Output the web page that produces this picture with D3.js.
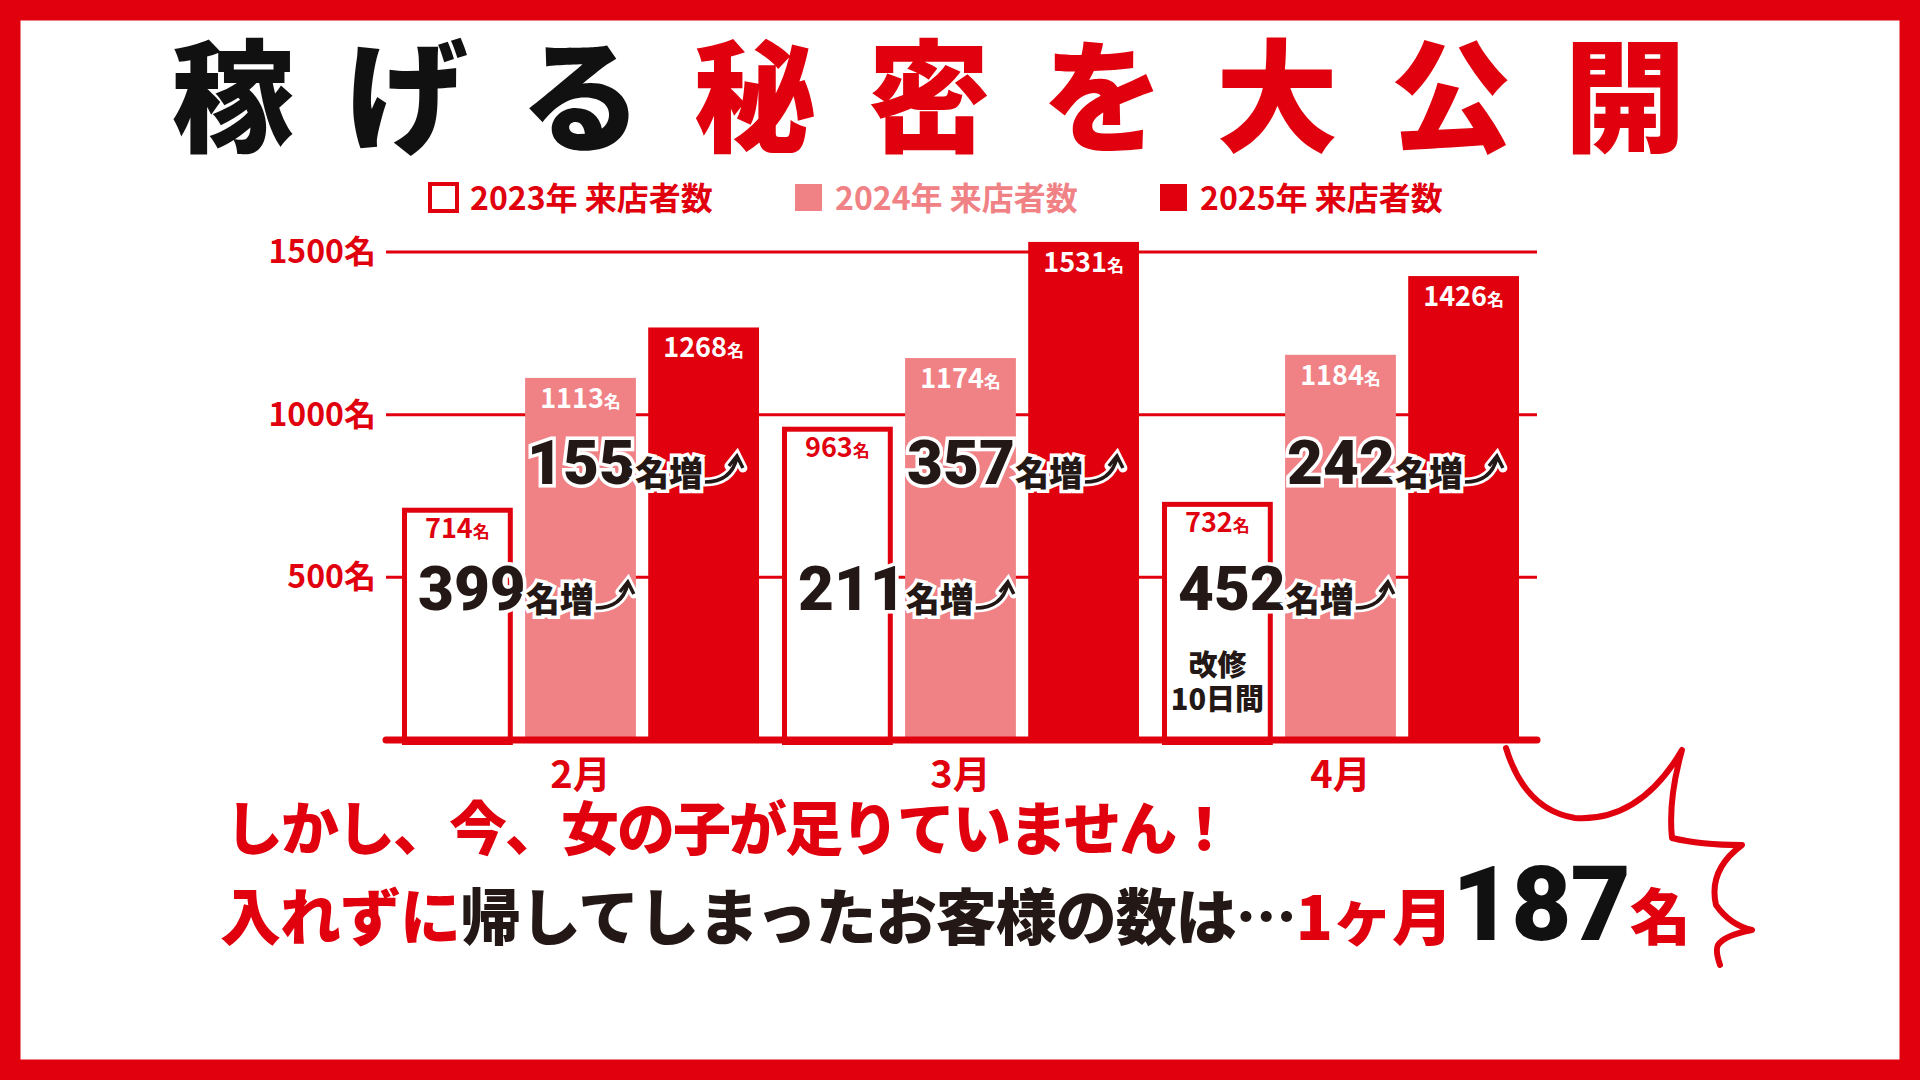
<!DOCTYPE html>
<html><head><meta charset="utf-8">
<script src="https://cdn.jsdelivr.net/npm/d3@7"></script>
<style>body{margin:0;background:#fff}text{font-family:"Noto Sans CJK JP",sans-serif}</style>
</head><body><svg width="1920" height="1080"></svg>
<script>
const months = ['2月', '3月', '4月'];
const series = ['2023年 来店者数', '2024年 来店者数', '2025年 来店者数'];
const v2023 = [714, 963, 732];
const v2024 = [1113, 1174, 1184];
const v2025 = [1268, 1531, 1426];
const ticks = [500, 1000, 1500];
const RED = '#e0000e', PINK = '#f08286';
const fills = ['#fff', PINK, RED];

const svg = d3.select('svg');
// frame
svg.append('rect').attr('x', 10).attr('y', 10).attr('width', 1900).attr('height', 1060)
  .attr('fill', 'none').attr('stroke', RED).attr('stroke-width', 21);

// title
const title = svg.append('text').attr('x', 955).attr('y', 142).attr('text-anchor', 'middle')
  .attr('font-size', 122).attr('font-weight', 900).attr('letter-spacing', 52);
title.append('tspan').attr('fill', '#111').text('稼げる');
title.append('tspan').attr('fill', RED).text('秘密を大公開');

// legend
const lg = svg.append('g');
const legX = [430, 795, 1160];
series.forEach((s, i) => {
  const g = lg.append('g').attr('transform', `translate(${legX[i]},198)`);
  g.append('rect').attr('x', 0).attr('y', -14).attr('width', 27).attr('height', 27)
    .attr('fill', fills[i]).attr('stroke', i === 0 ? RED : fills[i]).attr('stroke-width', i === 0 ? 4 : 0);
  g.append('text').attr('x', 40).attr('y', 12).attr('font-size', 32).attr('font-weight', 700)
    .attr('fill', i === 1 ? PINK : RED).text(s);
});

const y = d3.scaleLinear().domain([0, 1500]).range([740, 252]);
const x = d3.scaleBand().domain(months).range([402, 1519]).paddingInner(0.0605);
const xs = d3.scaleBand().domain(d3.range(3)).range([0, x.bandwidth()]).paddingInner(0.1);

// gridlines
svg.append('g').selectAll('line').data(ticks).join('line')
  .attr('x1', 386).attr('x2', 1537).attr('y1', d => y(d)).attr('y2', d => y(d))
  .attr('stroke', RED).attr('stroke-width', 3);
svg.append('g').selectAll('text').data(ticks).join('text')
  .attr('x', 376).attr('y', d => y(d) + 11).attr('text-anchor', 'end')
  .attr('font-size', 32).attr('font-weight', 700).attr('fill', RED).text(d => d + '名');

const rows = months.map((m, i) => [v2023[i], v2024[i], v2025[i]].map((v, s) => ({m, s, v})));
const bars = svg.append('g').selectAll('g').data(rows.flat()).join('g');
bars.append('rect')
  .attr('x', d => x(d.m) + xs(d.s) + (d.s === 0 ? 2.5 : 0))
  .attr('y', d => y(d.v) + (d.s === 0 ? 2.5 : 0))
  .attr('width', d => xs.bandwidth() - (d.s === 0 ? 5 : 0))
  .attr('height', d => y(0) - y(d.v))
  .attr('fill', d => fills[d.s]).attr('stroke', d => d.s === 0 ? RED : 'none').attr('stroke-width', 5);
const vl = bars.append('text')
  .attr('x', d => x(d.m) + xs(d.s) + xs.bandwidth() / 2).attr('y', d => y(d.v) + 30)
  .attr('text-anchor', 'middle').attr('font-weight', 700)
  .attr('fill', d => d.s === 0 ? RED : '#fff');
vl.append('tspan').attr('font-size', 27).text(d => d.v);
vl.append('tspan').attr('font-size', 17).text('名');

// axis baseline
svg.append('line').attr('x1', 386).attr('x2', 1537).attr('y1', y(0)).attr('y2', y(0))
  .attr('stroke', RED).attr('stroke-width', 7).attr('stroke-linecap', 'round');
svg.append('g').selectAll('text').data(months).join('text')
  .attr('x', d => x(d) + x.bandwidth() / 2).attr('y', 788).attr('text-anchor', 'middle')
  .attr('font-size', 38).attr('font-weight', 700).attr('fill', RED).text(d => d);

// increase labels
const incs = [];
months.forEach((m, i) => {
  incs.push({x: x(m) + xs(0) + 16, y: 610, n: v2024[i] - v2023[i]});
  incs.push({x: x(m) + xs(1) + 2, y: 484, n: v2025[i] - v2024[i]});
});
const ig = svg.append('g').selectAll('g').data(incs).join('g')
  .attr('transform', d => `translate(${d.x},${d.y})`);
const it = ig.append('text').attr('fill', '#231815').attr('stroke', '#fff').attr('stroke-width', 7)
  .attr('paint-order', 'stroke').attr('font-weight', 900);
it.append('tspan').attr('font-size', 62).attr('font-family', 'Roboto,sans-serif').text(d => d.n);
it.append('tspan').attr('font-size', 34).attr('dy', 2).text('名増');
ig.each(function () {
  const g = d3.select(this), w = g.select('text').node().getComputedTextLength();
  const p = `M${w + 2},-2 Q${w + 28},-2 ${w + 34},-26 M${w + 26},-18 L${w + 34},-28 L${w + 40},-16`;
  g.append('path').attr('d', p).attr('fill', 'none').attr('stroke', '#fff').attr('stroke-width', 9).attr('stroke-linecap', 'round');
  g.append('path').attr('d', p).attr('fill', 'none').attr('stroke', '#231815').attr('stroke-width', 3.5);
});

// renovation note
svg.append('g').selectAll('text').data(['改修', '10日間']).join('text')
  .attr('x', x('4月') + xs(0) + xs.bandwidth() / 2).attr('y', (d, i) => 676 + i * 34)
  .attr('text-anchor', 'middle').attr('font-size', 29).attr('font-weight', 900)
  .attr('fill', '#231815').attr('stroke', '#fff').attr('stroke-width', 5).attr('paint-order', 'stroke').text(d => d);

// bottom text
svg.append('text').attr('x', 225).attr('y', 850).attr('font-size', 58).attr('font-weight', 900)
  .attr('fill', RED).attr('letter-spacing', -2).text('しかし、今、女の子が足りていません！');
const b = svg.append('text').attr('x', 220).attr('y', 940).attr('font-weight', 900).attr('font-size', 61).attr('letter-spacing', -1);
b.append('tspan').attr('fill', RED).text('入れずに');
b.append('tspan').attr('fill', '#231815').text('帰してしまったお客様の数は…');
b.append('tspan').attr('fill', RED).text('1ヶ月');
b.append('tspan').attr('fill', '#111').attr('font-size', 104).attr('font-family', 'Roboto,sans-serif').text('187');
b.append('tspan').attr('fill', RED).text('名');

// burst
svg.append('path')
  .attr('d', 'M1506,748 Q1525,810 1575,818 Q1640,822 1682,750 Q1668,800 1672,838 Q1700,845 1742,845 Q1708,870 1716,905 Q1730,925 1752,930 Q1725,935 1718,945 Q1715,950 1720,965')
  .attr('fill', 'none').attr('stroke', RED).attr('stroke-width', 6).attr('stroke-linejoin', 'round').attr('stroke-linecap', 'round');
</script></body></html>
